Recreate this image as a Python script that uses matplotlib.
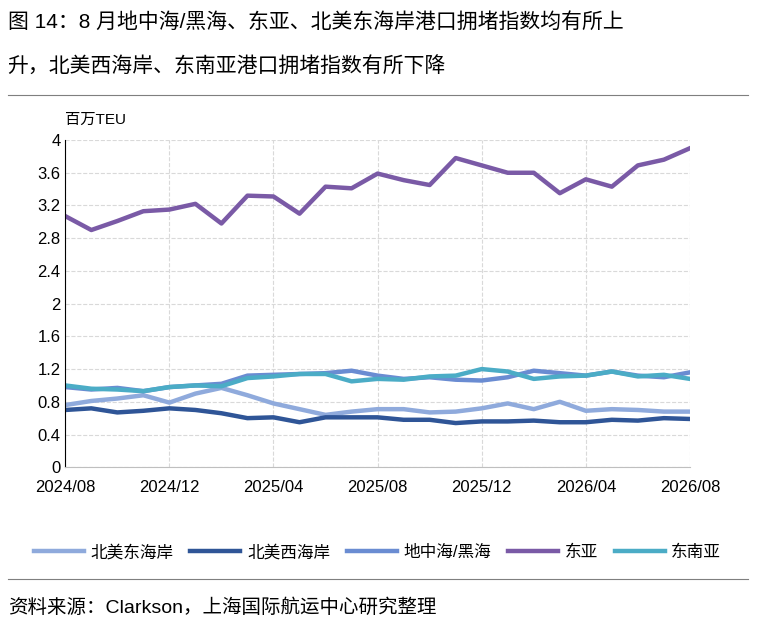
import matplotlib.pyplot as plt

plt.rcParams['font.family'] = ['Liberation Sans', 'Noto Sans CJK SC', 'DejaVu Sans']

months = list(range(25))
tick_pos = [0, 4, 8, 12, 16, 20, 24]
tick_labels = ['2024/08', '2024/12', '2025/04', '2025/08', '2025/12', '2026/04', '2026/08']

na_east = [0.76, 0.81, 0.84, 0.88, 0.79, 0.90, 0.97, 0.88, 0.78, 0.71, 0.64, 0.68, 0.71,
           0.71, 0.67, 0.68, 0.72, 0.78, 0.71, 0.80, 0.69, 0.71, 0.70, 0.68, 0.68]
na_west = [0.70, 0.72, 0.67, 0.69, 0.72, 0.70, 0.66, 0.60, 0.61, 0.55, 0.61, 0.61, 0.61,
           0.58, 0.58, 0.54, 0.56, 0.56, 0.57, 0.55, 0.55, 0.58, 0.57, 0.60, 0.59]
med = [0.98, 0.95, 0.97, 0.93, 0.98, 1.00, 1.02, 1.12, 1.13, 1.14, 1.15, 1.18, 1.12,
       1.08, 1.10, 1.07, 1.06, 1.10, 1.18, 1.15, 1.12, 1.17, 1.12, 1.10, 1.16]
east_asia = [3.07, 2.90, 3.01, 3.13, 3.15, 3.22, 2.98, 3.32, 3.31, 3.10, 3.43, 3.41, 3.59,
             3.51, 3.45, 3.78, 3.69, 3.60, 3.60, 3.35, 3.52, 3.43, 3.69, 3.76, 3.90]
se_asia = [1.00, 0.96, 0.95, 0.93, 0.98, 1.00, 0.99, 1.09, 1.11, 1.14, 1.14, 1.05, 1.08,
           1.07, 1.11, 1.12, 1.20, 1.17, 1.08, 1.11, 1.12, 1.17, 1.11, 1.13, 1.08]

series = [('北美东海岸', na_east, '#8faadc'), ('北美西海岸', na_west, '#2f5597'),
          ('地中海/黑海', med, '#6a8cd2'), ('东亚', east_asia, '#7a5aa6'),
          ('东南亚', se_asia, '#4bacc6')]

fig = plt.figure(figsize=(7.59, 6.28), dpi=100)
ax = fig.add_axes([0.086, 0.256, 0.823, 0.521])
for name, vals, c in series:
    ax.plot(months, vals, color=c, lw=3.2, label=name)

ax.set_xlim(0, 24)
ax.set_ylim(0, 4)
ax.set_yticks([0, 0.4, 0.8, 1.2, 1.6, 2, 2.4, 2.8, 3.2, 3.6, 4])
ax.set_yticklabels(['0', '0.4', '0.8', '1.2', '1.6', '2', '2.4', '2.8', '3.2', '3.6', '4'])
ax.set_xticks(tick_pos)
ax.set_xticklabels(tick_labels)
ax.tick_params(labelsize=12, length=0)
ax.tick_params(axis='x', pad=9)
ax.grid(True, color='#d9d9d9', linestyle='--', lw=0.8)
for s in ['top', 'right']:
    ax.spines[s].set_visible(False)
ax.spines['left'].set_color('black')
ax.spines['bottom'].set_color('#bfbfbf')
ax.text(0.0, 1.04, '百万TEU', transform=ax.transAxes, fontsize=11, ha='left', va='bottom')

ax.legend(loc='upper center', bbox_to_anchor=(0.5, -0.19), ncol=5, frameon=False,
          fontsize=12, handlelength=3, columnspacing=1.0, handletextpad=0.4)

fig.text(0.01, 0.965, '图 14：8 月地中海/黑海、东亚、北美东海岸港口拥堵指数均有所上', fontsize=15, va='center')
fig.text(0.01, 0.895, '升，北美西海岸、东南亚港口拥堵指数有所下降', fontsize=15, va='center')
fig.add_artist(plt.Line2D([0.01, 0.985], [0.848, 0.848], color='#7f7f7f', lw=0.8))
fig.add_artist(plt.Line2D([0.01, 0.985], [0.078, 0.078], color='#7f7f7f', lw=0.8))
fig.text(0.01, 0.032, '资料来源：Clarkson，上海国际航运中心研究整理', fontsize=14, va='center')

fig.savefig('out.png', dpi=100)
